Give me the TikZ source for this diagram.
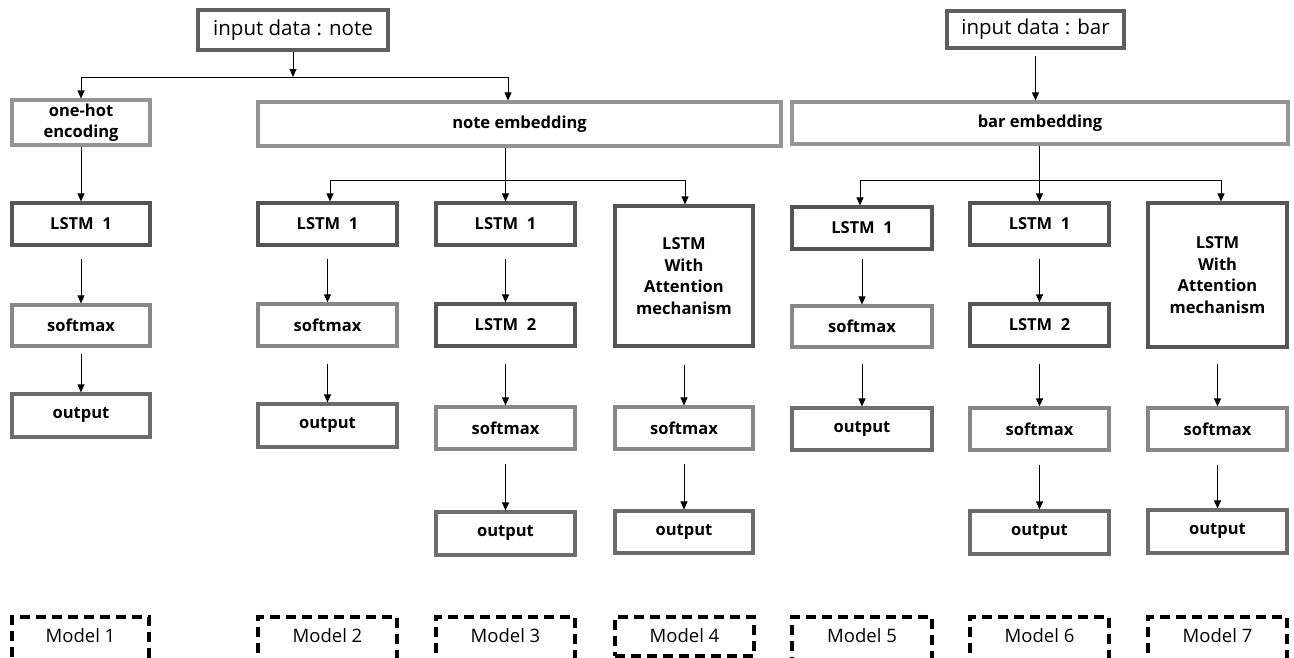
\documentclass[tikz,border=0pt]{standalone}
\usepackage{fontspec}
\setmainfont{Open Sans}
\usetikzlibrary{arrows.meta}
\definecolor{cLstm}{RGB}{85,85,85}
\definecolor{cSoft}{RGB}{135,135,135}
\definecolor{cOut}{RGB}{108,108,108}
\definecolor{cEmb}{RGB}{148,148,148}
\definecolor{cIn}{RGB}{95,95,95}
\tikzset{
  box/.style={draw, line width=3.2pt, fill=white, inner sep=0pt, align=center,
    font=\fontsize{16.5}{21.5}\selectfont\bfseries, text=black},
  lstm/.style={box, draw=cLstm},
  soft/.style={box, draw=cSoft},
  outb/.style={box, draw=cOut},
  emb/.style={box, draw=cEmb},
  inbox/.style={draw=cIn, line width=3.2pt, inner sep=0pt, font=\fontsize{20.5}{24}\selectfont},
  modelbox/.style={draw=black, line width=3.4pt, dash pattern=on 10pt off 6pt, inner sep=0pt},
  modeltext/.style={font=\fontsize{18.5}{22}\selectfont},
  arr/.style={-{Triangle[width=7pt,length=8pt]}, line width=0.9pt, black},
  ln/.style={line width=0.9pt, black},
}
\begin{document}
\begin{tikzpicture}[x=1pt,y=-1pt]
\useasboundingbox (0,0) rectangle (1294,657);
% inputs
\node[inbox, minimum width=190pt, minimum height=40pt] (inN) at (293,30) {input data : note};
\node[inbox, minimum width=177pt, minimum height=37pt] (inB) at (1035.5,29.5) {input data : bar};
% embeddings
\node[emb, minimum width=138pt, minimum height=45pt] (oh) at (81,122.5) {one-hot\\encoding};
\node[emb, minimum width=523pt, minimum height=44pt] (nemb) at (519.5,124) {note embedding};
\node[emb, minimum width=496pt, minimum height=42pt] (bemb) at (1040,123) {bar embedding};
% model 1
\node[lstm, minimum width=138pt, minimum height=42pt] (a1) at (81,224) {LSTM~ 1};
\node[soft, minimum width=138pt, minimum height=41pt] (a2) at (81,325.5) {softmax};
\node[outb, minimum width=138pt, minimum height=43pt] (a3) at (81,415.5) {output};
% model 2
\node[lstm, minimum width=139pt, minimum height=42pt] (b1) at (327.5,224) {LSTM~ 1};
\node[soft, minimum width=139pt, minimum height=42pt] (b2) at (327.5,325) {softmax};
\node[outb, minimum width=139pt, minimum height=43pt] (b3) at (327.5,425.5) {output};
% model 3
\node[lstm, minimum width=139pt, minimum height=42pt] (c1) at (505.5,224) {LSTM~ 1};
\node[lstm, minimum width=139pt, minimum height=42pt] (c2) at (505.5,325) {LSTM~ 2};
\node[soft, minimum width=139pt, minimum height=42pt] (c3) at (505.5,428) {softmax};
\node[outb, minimum width=139pt, minimum height=43pt] (c4) at (505.5,533.5) {output};
% model 4
\node[lstm, minimum width=138pt, minimum height=140pt] (d1) at (684,276) {LSTM\\With\\Attention\\mechanism};
\node[soft, minimum width=138pt, minimum height=42pt] (d2) at (684,428) {softmax};
\node[outb, minimum width=138pt, minimum height=42pt] (d3) at (684,532) {output};
% model 5
\node[lstm, minimum width=140pt, minimum height=42pt] (e1) at (862,228) {LSTM~ 1};
\node[soft, minimum width=140pt, minimum height=41pt] (e2) at (862,326.5) {softmax};
\node[outb, minimum width=140pt, minimum height=42pt] (e3) at (862,429) {output};
% model 6
\node[lstm, minimum width=139pt, minimum height=42pt] (f1) at (1039.5,224) {LSTM~ 1};
\node[lstm, minimum width=139pt, minimum height=42pt] (f2) at (1039.5,325) {LSTM~ 2};
\node[soft, minimum width=139pt, minimum height=42pt] (f3) at (1039.5,429) {softmax};
\node[outb, minimum width=139pt, minimum height=43pt] (f4) at (1039.5,532.5) {output};
% model 7
\node[lstm, minimum width=139pt, minimum height=144pt] (g1) at (1217.5,275) {LSTM\\With\\Attention\\mechanism};
\node[soft, minimum width=139pt, minimum height=42pt] (g2) at (1217.5,429) {softmax};
\node[outb, minimum width=139pt, minimum height=43pt] (g3) at (1217.5,531.5) {output};
% model labels
\node[modelbox, minimum width=137pt, minimum height=80pt] (m1) at (80.5,657) {};
\node[modelbox, minimum width=139pt, minimum height=80pt] (m2) at (327.5,657) {};
\node[modelbox, minimum width=139pt, minimum height=80pt] (m3) at (505.5,657) {};
\node[modelbox, minimum width=139pt, minimum height=39pt] (m4) at (684.5,636.5) {};
\node[modelbox, minimum width=140pt, minimum height=80pt] (m5) at (862,657) {};
\node[modelbox, minimum width=139pt, minimum height=80pt] (m6) at (1039.5,657) {};
\node[modelbox, minimum width=139pt, minimum height=80pt] (m7) at (1217.5,657) {};
\foreach \n/\t/\x in {m1/1/80.5,m2/2/327.5,m3/3/505.5,m4/4/684.5,m5/5/862,m6/6/1039.5,m7/7/1217.5}
  \node[modeltext] (l\n) at (\x,636) {Model \t};
% note branch
\coordinate (jN) at (293,77);
\coordinate (jNl) at (81,77);
\coordinate (jNr) at (508,77);
\draw[arr] (inN.south) -- (jN);
\draw[ln] (jNl) -- (jNr);
\draw[arr] (jNl) -- (oh.north);
\draw[arr] (jNr) -- (jNr |- nemb.north);
\draw[arr] (oh.south) -- (a1.north);
\draw[arr] (nemb.south -| c1.north) -- (c1.north);
\coordinate (jM2) at (330,180);
\coordinate (jM4) at (685,180);
\draw[ln] (jM2) -- (jM4);
\draw[arr] (jM2) -- (jM2 |- b1.north);
\draw[arr] (jM4) -- (jM4 |- d1.north);
% bar branch
\draw[arr, shorten <=6pt] (inB.south) -- (inB.south |- bemb.north);
\draw[arr] (bemb.south -| f1.north) -- (f1.north);
\coordinate (jM5) at (860,180);
\coordinate (jM7) at (1221,180);
\draw[ln] (jM5) -- (jM7);
\draw[arr] (jM5) -- (jM5 |- e1.north);
\draw[arr] (jM7) -- (jM7 |- g1.north);
% column arrows
\draw[arr, shorten <=12pt] (a1.south) -- (a2.north);
\draw[arr, shorten <=6pt] (a2.south) -- (a3.north);
\draw[arr, shorten <=12pt] (b1.south) -- (b2.north);
\draw[arr, shorten <=16pt] (b2.south) -- (b3.north);
\draw[arr, shorten <=12pt] (c1.south) -- (c2.north);
\draw[arr, shorten <=16pt] (c2.south) -- (c3.north);
\draw[arr, shorten <=13pt] (c3.south) -- (c4.north);
\draw[arr, shorten <=17pt] (d1.south) -- (d2.north);
\draw[arr, shorten <=13pt] (d2.south) -- (d3.north);
\draw[arr, shorten <=8pt] (e1.south) -- (e2.north);
\draw[arr, shorten <=15pt] (e2.south) -- (e3.north);
\draw[arr, shorten <=12pt] (f1.south) -- (f2.north);
\draw[arr, shorten <=16pt] (f2.south) -- (f3.north);
\draw[arr, shorten <=13pt] (f3.south) -- (f4.north);
\draw[arr, shorten <=15pt] (g1.south) -- (g2.north);
\draw[arr, shorten <=13pt] (g2.south) -- (g3.north);
\end{tikzpicture}
\end{document}
